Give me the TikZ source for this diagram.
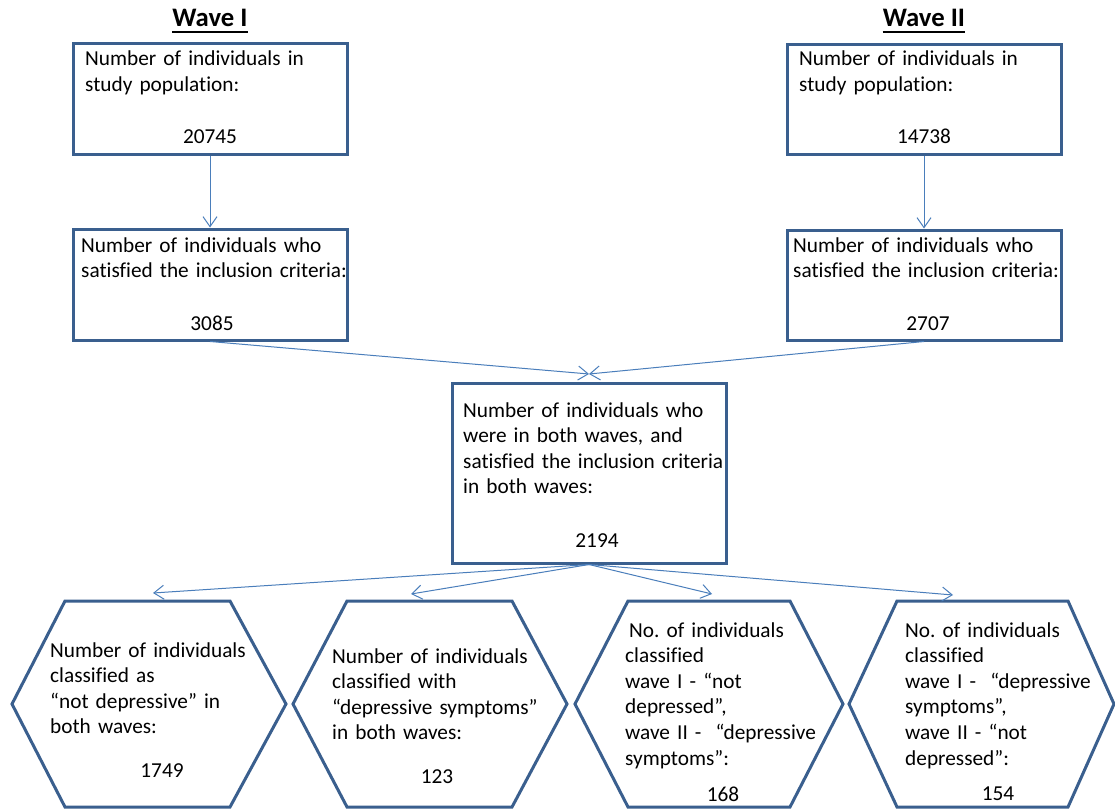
\documentclass[tikz,border=0pt]{standalone}
\usepackage{fontspec}
\setmainfont{Carlito}[Ligatures={NoCommon,TeX}]
\usetikzlibrary{arrows.meta}
\definecolor{boxblue}{HTML}{3A5F8E}
\definecolor{arrblue}{HTML}{4A7EBB}
\frenchspacing
\begin{document}
\begin{tikzpicture}[x=1pt,y=-1pt,
 boxnode/.style={draw=boxblue,line width=3pt,inner sep=0pt,minimum width=274pt},
 hexline/.style={draw=boxblue,line width=3pt,line join=miter},
 txt/.style={anchor=base west,inner sep=0pt,text width=300pt,align=left,font=\fontsize{21.3}{25.6}\selectfont},
 num/.style={anchor=base,inner sep=0pt,font=\fontsize{21.3}{25.6}\selectfont},
 ttl/.style={anchor=base,inner sep=0pt,font=\bfseries\fontsize{26.7}{30}\selectfont},
 conn/.style={draw=arrblue,line width=1pt,-{Straight Barb[length=10pt,width=14pt]}}]
\useasboundingbox[fill=white] (0,0) rectangle (1115,808);

% titles
\node[ttl] (w1) at (210,27) {Wave I};
\node[ttl] (w2) at (924,27) {Wave II};
\draw[line width=1.8pt] ([yshift=-5pt]w1.base west) -- ([yshift=-5pt]w1.base east);
\draw[line width=1.8pt] ([yshift=-5pt]w2.base west) -- ([yshift=-5pt]w2.base east);

% boxes
\node[boxnode,minimum height=110pt] (b1) at (210,99) {};
\node[boxnode,minimum height=111pt] (b2) at (210,284.5) {};
\node[boxnode,minimum height=110pt] (b3) at (924,99.5) {};
\node[boxnode,minimum height=110pt] (b4) at (924,285) {};
\node[boxnode,minimum height=180pt] (cb) at (589,473) {};

\node[txt] (b1t) at (85,66) {Number of individuals in\\study population:};
\node[num] (b1n) at (210,143) {20745};
\node[txt] (b2t) at (81,252) {Number of individuals who\\satisfied the inclusion criteria:};
\node[num] (b2n) at (212,330) {3085};
\node[txt] (b3t) at (799,66) {Number of individuals in\\study population:};
\node[num] (b3n) at (924,143) {14738};
\node[txt] (b4t) at (793,252) {Number of individuals who\\satisfied the inclusion criteria:};
\node[num] (b4n) at (928,330) {2707};
\node[txt] (cbt) at (463,417) {Number of individuals who\\were in both waves, and\\satisfied the inclusion criteria\\in both waves:};
\node[num] (cbn) at (597,547) {2194};

% hexagons
\draw[hexline] (12,704) -- (65,601) -- (230,601) -- (286,704) -- (230,807) -- (65,807) -- cycle;
\draw[hexline] (293,704) -- (347,601) -- (512,601) -- (567,704) -- (512,807) -- (347,807) -- cycle;
\draw[hexline] (575,704) -- (628,601) -- (790,601) -- (843,704) -- (790,807) -- (628,807) -- cycle;
\draw[hexline] (849,704) -- (897,601) -- (1068,601) -- (1114,704) -- (1068,807) -- (897,807) -- cycle;

\node[txt] (h1t) at (50,657) {Number of individuals\\classified as\\“not depressive” in\\both waves:};
\node[num] (h1n) at (162,777) {1749};
\node[txt] (h2t) at (332,663) {Number of individuals\\classified with\\“depressive symptoms”\\in both waves:};
\node[num] (h2n) at (437,783) {123};
\node[txt] (h3t) at (625,637) {\hspace{4pt}No. of individuals\\classified\\wave I - “not\\depressed”,\\wave II -\ \ “depressive\\symptoms”:};
\node[num] (h3n) at (723,801) {168};
\node[txt] (h4t) at (905,637) {No. of individuals\\classified\\wave I -\ \ “depressive\\symptoms”,\\wave II - “not\\depressed”:};
\node[num] (h4n) at (998,800) {154};

% arrow targets
\coordinate (cin) at (589,374);
\coordinate (t1) at (153,593);
\coordinate (t2) at (411,594);
\coordinate (t3) at (712,594);
\coordinate (t4) at (953,595);

% connectors
\draw[conn] (b1.south) -- (b2.north);
\draw[conn] (b3.south) -- (b4.north);
\draw[conn] (b2.south) -- (cin);
\draw[conn] (b4.south) -- (cin);
\draw[conn] (cb.south) -- (t1);
\draw[conn] (cb.south) -- (t2);
\draw[conn] (cb.south) -- (t3);
\draw[conn] (cb.south) -- (t4);
\end{tikzpicture}
\end{document}
